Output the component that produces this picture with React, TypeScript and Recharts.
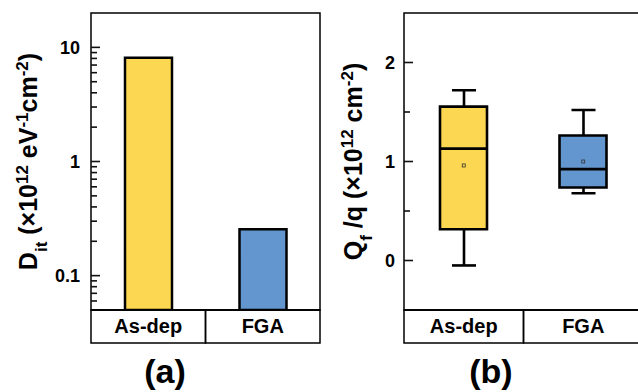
import React from 'react'
import {
  BarChart,
  ComposedChart,
  Bar,
  Line,
  Cell,
  XAxis,
  YAxis,
  ReferenceLine,
  ReferenceArea,
} from 'recharts'

// categories and values
const categories = ['As-dep', 'FGA']
const ditValues = [8.1, 0.255]

const qfMin = [-0.05, 0.68]
const qfQ1 = [0.315, 0.738]
const qfMedian = [1.13, 0.923]
const qfQ3 = [1.554, 1.262]
const qfMax = [1.72, 1.52]
const qfMean = [0.96, 1.0]

const barColors = ['#FCD751', '#6396CE']

const ditDomain = [0.05, 20]
const ditTicks = [
  0.05, 0.06, 0.07, 0.08, 0.09, 0.1, 0.2, 0.3, 0.4, 0.5, 0.6, 0.7, 0.8, 0.9, 1,
  2, 3, 4, 5, 6, 7, 8, 9, 10,
]
const ditLabels = [0.1, 1, 10]
const qfDomain = [-0.5, 2.5]
const qfTicks = [0, 0.5, 1, 1.5, 2]
const qfLabels = [0, 1, 2]

const FONT = '"Liberation Sans", Arial, sans-serif'
const FRAME = { stroke: '#000', strokeWidth: 1.5 }

const ditData = categories.map((name, i) => ({ name, dit: ditValues[i] }))
const qfData = categories.map((name, i) => ({
  name,
  whisker: [qfMin[i], qfMax[i]],
  box: [qfQ1[i], qfQ3[i]],
  median: qfMedian[i],
  mean: qfMean[i],
}))

function makeYTick(labels: number[], gap: number) {
  return function YTick(props: any) {
    const value = props.payload.value
    if (!labels.includes(value)) return <g />
    return (
      <text
        x={Number(props.x) - gap}
        y={Number(props.y)}
        dy="0.36em"
        textAnchor="end"
        fontSize={18}
        fontWeight="bold"
        fontFamily={FONT}
        fill="#000"
      >
        {value}
      </text>
    )
  }
}

function makeTickMark(len: number) {
  return function TickMark(props: any) {
    const left = Math.min(Number(props.x1), Number(props.x2))
    const y = Number(props.y1)
    return <path d={`M${left},${y}H${left + len}`} stroke="#111" strokeWidth={1.6} fill="none" />
  }
}
const majorMark = makeTickMark(9)
const minorMark = makeTickMark(6)

// inward tick marks, passed to the chart as separate children (not one array)
function tickMarks(ticks: number[], labels: number[]) {
  return ticks.map((t) =>
    React.createElement(ReferenceLine, {
      key: `tick-${t}`,
      y: t,
      ifOverflow: 'visible',
      shape: labels.includes(t) ? majorMark : minorMark,
    }),
  )
}

function FrameShape(props: any) {
  const { x, y, width, height } = props
  return <rect x={x} y={y} width={width} height={height} fill="none" {...FRAME} />
}

function makeXTick(bandWidth: number) {
  return function XTick(props: any) {
    const { x, y, payload } = props
    return (
      <g>
        <rect x={x - bandWidth / 2} y={y} width={bandWidth} height={33} fill="none" {...FRAME} />
        <text x={x} y={y + 23} textAnchor="middle" fontSize={20} fontWeight="bold" fontFamily={FONT} fill="#000">
          {payload.value}
        </text>
      </g>
    )
  }
}

function WhiskerShape(props: any) {
  const { x, y, width, height } = props
  const top = height < 0 ? y + height : y
  const h = Math.abs(height)
  const cx = x + width / 2
  return (
    <g stroke="#000" strokeWidth={2.6}>
      <line x1={cx} x2={cx} y1={top} y2={top + h} />
      <line x1={x} x2={x + width} y1={top} y2={top} />
      <line x1={x} x2={x + width} y1={top + h} y2={top + h} />
    </g>
  )
}

function MedianDot(props: any) {
  const { cx, cy, index } = props
  return <line key={`med-${index}`} x1={cx - 23.5} x2={cx + 23.5} y1={cy} y2={cy} stroke="#000" strokeWidth={2.6} />
}

function MeanDot(props: any) {
  const { cx, cy, index } = props
  return <rect key={`mean-${index}`} x={cx - 1.5} y={cy - 1.5} width={3} height={3} fill="none" stroke="#333" strokeWidth={0.8} />
}

const panelLabel = (center: number): React.CSSProperties => ({
  position: 'absolute',
  left: center - 40,
  width: 80,
  top: 354,
  textAlign: 'center',
  fontFamily: FONT,
  fontWeight: 'bold',
  fontSize: 34,
  lineHeight: '34px',
  color: '#000',
})

const SUB = 17

function AxisTitles() {
  const common = { textAnchor: 'middle' as const, fontSize: 25, fontWeight: 'bold', fontFamily: FONT, fill: '#000' }
  return (
    <svg width={638} height={392} style={{ position: 'absolute', left: 0, top: 0, pointerEvents: 'none' }}>
      <text transform="translate(37,161.5) rotate(-90)" {...common}>
        <tspan>D</tspan>
        <tspan baselineShift="sub" fontSize={SUB}>it</tspan>
        <tspan>{' (×10'}</tspan>
        <tspan baselineShift="super" fontSize={SUB}>12</tspan>
        <tspan>{' eV'}</tspan>
        <tspan baselineShift="super" fontSize={SUB}>-1</tspan>
        <tspan>cm</tspan>
        <tspan baselineShift="super" fontSize={SUB}>-2</tspan>
        <tspan>)</tspan>
      </text>
      <text transform="translate(362,161.5) rotate(-90)" {...common}>
        <tspan>Q</tspan>
        <tspan baselineShift="sub" fontSize={SUB}>f</tspan>
        <tspan>{' /q (×10'}</tspan>
        <tspan baselineShift="super" fontSize={SUB}>12</tspan>
        <tspan>{' cm'}</tspan>
        <tspan baselineShift="super" fontSize={SUB}>-2</tspan>
        <tspan>)</tspan>
      </text>
    </svg>
  )
}

function DitPanel() {
  return React.createElement(
    BarChart,
    { width: 330, height: 392, data: ditData, margin: { top: 13, right: 10, bottom: 49, left: 0 } },
    <XAxis key="x" dataKey="name" height={33} interval={0} tickSize={0} tickMargin={0} tickLine={false} axisLine={FRAME} tick={makeXTick(114.5)} />,
    <YAxis
      key="y"
      scale="log"
      type="number"
      domain={ditDomain}
      allowDataOverflow
      ticks={ditTicks}
      interval={0}
      width={91}
      tickSize={0}
      tickMargin={0}
      tickLine={false}
      axisLine={false}
      tick={makeYTick(ditLabels, 11)}
    />,
    <ReferenceArea key="frame" y1={ditDomain[0]} y2={ditDomain[1]} shape={FrameShape} />,
    <Bar key="bar" dataKey="dit" barSize={47} stroke="#000" strokeWidth={2.5} isAnimationActive={false}>
      {ditData.map((d, i) => (
        <Cell key={d.name} fill={barColors[i]} />
      ))}
    </Bar>,
    ...tickMarks(ditTicks, ditLabels),
  )
}

function QfPanel() {
  return React.createElement(
    ComposedChart,
    { width: 340, height: 392, data: qfData, margin: { top: 13, right: 17, bottom: 49, left: 0 } },
    <XAxis key="x" dataKey="name" height={33} interval={0} tickSize={0} tickMargin={0} tickLine={false} axisLine={FRAME} tick={makeXTick(119.5)} />,
    <XAxis key="xw" xAxisId="w" dataKey="name" hide />,
    <YAxis
      key="y"
      type="number"
      domain={qfDomain}
      allowDataOverflow
      ticks={qfTicks}
      interval={0}
      width={84}
      tickSize={0}
      tickMargin={0}
      tickLine={false}
      axisLine={false}
      tick={makeYTick(qfLabels, 9)}
    />,
    <ReferenceArea key="frame" y1={qfDomain[0]} y2={qfDomain[1]} shape={FrameShape} />,
    <Bar key="whisker" xAxisId="w" dataKey="whisker" barSize={24} shape={WhiskerShape} isAnimationActive={false} />,
    <Bar key="box" dataKey="box" barSize={47} stroke="#000" strokeWidth={2.6} isAnimationActive={false}>
      {qfData.map((d, i) => (
        <Cell key={d.name} fill={barColors[i]} />
      ))}
    </Bar>,
    <Line key="median" dataKey="median" stroke="none" dot={MedianDot} activeDot={false} isAnimationActive={false} />,
    <Line key="mean" dataKey="mean" stroke="none" dot={MeanDot} activeDot={false} isAnimationActive={false} />,
    ...tickMarks(qfTicks, qfLabels),
  )
}

export default function App() {
  return (
    <div style={{ position: 'absolute', left: 0, top: 0, width: 638, height: 392, overflow: 'hidden', background: '#fff' }}>
      <div style={{ position: 'absolute', left: 0, top: 0 }}>
        <DitPanel />
      </div>
      <div style={{ position: 'absolute', left: 320, top: 0 }}>
        <QfPanel />
      </div>
      <AxisTitles />
      <div style={panelLabel(165)}>(a)</div>
      <div style={panelLabel(491)}>(b)</div>
    </div>
  )
}
